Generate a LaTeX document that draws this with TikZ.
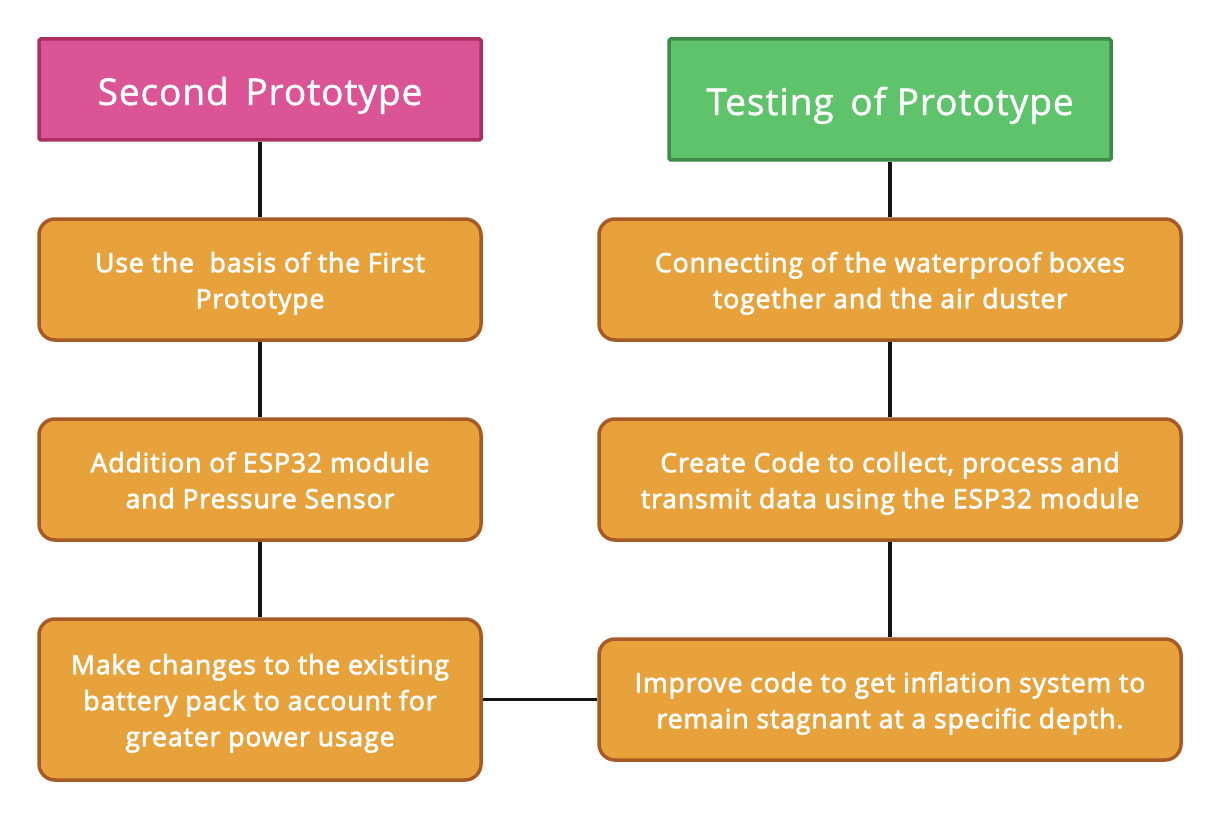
\documentclass[tikz,border=0pt]{standalone}
\usepackage{fontspec}
\setmainfont{Open Sans}
\newfontfamily\titlefont{Open Sans}[FakeBold=1.2, LetterSpace=2.5]
\newfontfamily\stagefont{Open Sans}[FakeBold=2.6, LetterSpace=3.5]
\definecolor{pinkfill}{HTML}{DB5496}
\definecolor{pinkedge}{HTML}{AE2E5E}
\definecolor{greenfill}{HTML}{5EC36A}
\definecolor{greenedge}{HTML}{3E8A48}
\definecolor{orangefill}{HTML}{E8A23C}
\definecolor{orangeedge}{HTML}{A85A26}
\definecolor{linkcol}{HTML}{151515}
\newcommand{\stagelines}[1]{\raisebox{-3.5pt}[\height][\depth]{\begin{tabular}{@{}c@{}}#1\end{tabular}}}
\tikzset{
  titlebox/.style={draw, line width=3.5pt, rounded corners=1.5pt, text=white, align=center,
    font=\titlefont\fontsize{37}{44}\selectfont, minimum width=442pt, inner sep=0pt,
    text height=31pt, text depth=0pt},
  stagebox/.style={draw=orangeedge, fill=orangefill, line width=3.5pt, rounded corners=16pt,
    text=white, align=center, font=\stagefont\fontsize{26.5}{36}\selectfont, minimum height=121pt, inner sep=0pt},
  link/.style={draw=linkcol, line width=3.5pt},
}
\begin{document}
\begin{tikzpicture}[x=1pt,y=-1pt]
\useasboundingbox[fill=white] (0,0) rectangle (1220,821);
% left column
\node[titlebox, draw=pinkedge, fill=pinkfill, minimum height=101pt] (t1) at (260,89.5) {Second\, Prototype};
\node[stagebox, minimum width=442pt] (a1) at (260,279.5) {\stagelines{Use the\ \ basis of the First\\Prototype}};
\node[stagebox, minimum width=442pt] (a2) at (260,479.5) {\stagelines{Addition of ESP32 module\\and Pressure Sensor}};
\node[stagebox, minimum width=442pt, minimum height=161pt] (a3) at (260,699.5) {\stagelines{Make changes to the existing\\battery pack to account for\\greater power usage}};
% right column
\node[titlebox, draw=greenedge, fill=greenfill, minimum height=121pt] (t2) at (890,99.5) {Testing\, of Prototype};
\node[stagebox, minimum width=582pt] (b1) at (890,279.5) {\stagelines{Connecting of the waterproof boxes\\together and the air duster}};
\node[stagebox, minimum width=582pt] (b2) at (890,479.5) {\stagelines{Create Code to collect, process and\\transmit data using the ESP32 module}};
\node[stagebox, minimum width=582pt] (b3) at (890,699.5) {\stagelines{Improve code to get inflation system to\\remain stagnant at a specific depth.}};
% connectors
\draw[link] (t1) -- (a1);
\draw[link] (a1) -- (a2);
\draw[link] (a2) -- (a3);
\draw[link] (t2) -- (b1);
\draw[link] (b1) -- (b2);
\draw[link] (b2) -- (b3);
\draw[link] (a3) -- (b3);
\end{tikzpicture}
\end{document}
